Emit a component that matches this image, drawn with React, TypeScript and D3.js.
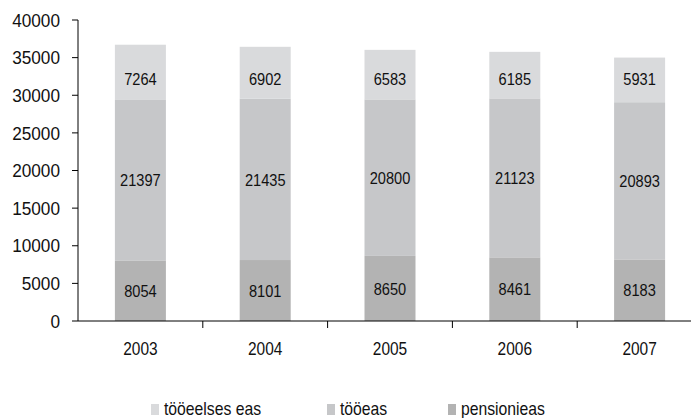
import React from "react";
import * as d3 from "d3";

const years = ["2003", "2004", "2005", "2006", "2007"];
const pensionieas = [8054, 8101, 8650, 8461, 8183];
const tooeas = [21397, 21435, 20800, 21123, 20893];
const tooeelsesEas = [7264, 6902, 6583, 6185, 5931];
const yTicks = [0, 5000, 10000, 15000, 20000, 25000, 30000, 35000, 40000];

const seriesNames = ["pensionieas", "tööeas", "tööeelses eas"];
const colors = ["#b3b3b3", "#c6c7c9", "#d9dadc"];
const legendOrder = [
  { name: "tööeelses eas", color: colors[2], x: 151 },
  { name: "tööeas", color: colors[1], x: 327 },
  { name: "pensionieas", color: colors[0], x: 448 },
];

const W = 691;
const H = 418;
const font = "'Liberation Sans', Arial, sans-serif";

function T({ x, y, size, sx, anchor, children, dy }: any) {
  return (
    <text
      transform={`translate(${x},${y}) scale(${sx},1)`}
      dy={dy}
      textAnchor={anchor}
      fontFamily={font}
      fontSize={size}
      fill="#111"
    >
      {children}
    </text>
  );
}

export default function App() {
  const x = d3.scaleBand<string>().domain(years).range([78, 702]).paddingInner(0).paddingOuter(0);
  const y = d3.scaleLinear().domain([0, 40000]).range([321, 20]);
  const data = years.map((yr, i) => ({
    year: yr,
    pensionieas: pensionieas[i],
    "tööeas": tooeas[i],
    "tööeelses eas": tooeelsesEas[i],
  }));
  const stack = d3.stack<any>().keys(seriesNames)(data);
  const barW = 51;

  return (
    <svg width={W} height={H} style={{ position: "absolute", left: 0, top: 0, background: "#fff" }}>
      {stack.map((s, si) =>
        s.map((d, i) => {
          const cx = (x(years[i]) as number) + x.bandwidth() / 2;
          const y0 = y(d[0]);
          const y1 = y(d[1]);
          const val = d[1] - d[0];
          const ly = si === 2 ? y(32200) : (y0 + y1) / 2;
          return (
            <g key={`${si}-${i}`}>
              <rect x={cx - barW / 2} y={y1} width={barW} height={y0 - y1} fill={colors[si]} />
              <T x={cx} y={ly} dy="0.36em" anchor="middle" size={17} sx={0.86}>
                {val}
              </T>
            </g>
          );
        })
      )}
      {/* y axis */}
      <line x1={78} x2={78} y1={20} y2={321} stroke="#000" strokeWidth={1} />
      {yTicks.map((t) => (
        <g key={t}>
          <line x1={72} x2={78} y1={y(t)} y2={y(t)} stroke="#000" />
          <T x={60} y={y(t)} dy="0.36em" anchor="end" size={18.5} sx={0.93}>
            {t}
          </T>
        </g>
      ))}
      {/* x axis */}
      <line x1={78} x2={702} y1={321} y2={321} stroke="#000" />
      {years.map((yr, i) => {
        const left = x(yr) as number;
        return (
          <g key={yr}>
            {i > 0 && <line x1={left} x2={left} y1={321} y2={328} stroke="#000" />}
            <T x={left + x.bandwidth() / 2} y={355} anchor="middle" size={18} sx={0.86}>
              {yr}
            </T>
          </g>
        );
      })}
      {/* legend */}
      {legendOrder.map((l) => (
        <g key={l.name}>
          <rect x={l.x} y={404} width={8} height={11} fill={l.color} />
          <T x={l.x + 13} y={415} anchor="start" size={17.5} sx={0.9}>
            {l.name}
          </T>
        </g>
      ))}
    </svg>
  );
}
